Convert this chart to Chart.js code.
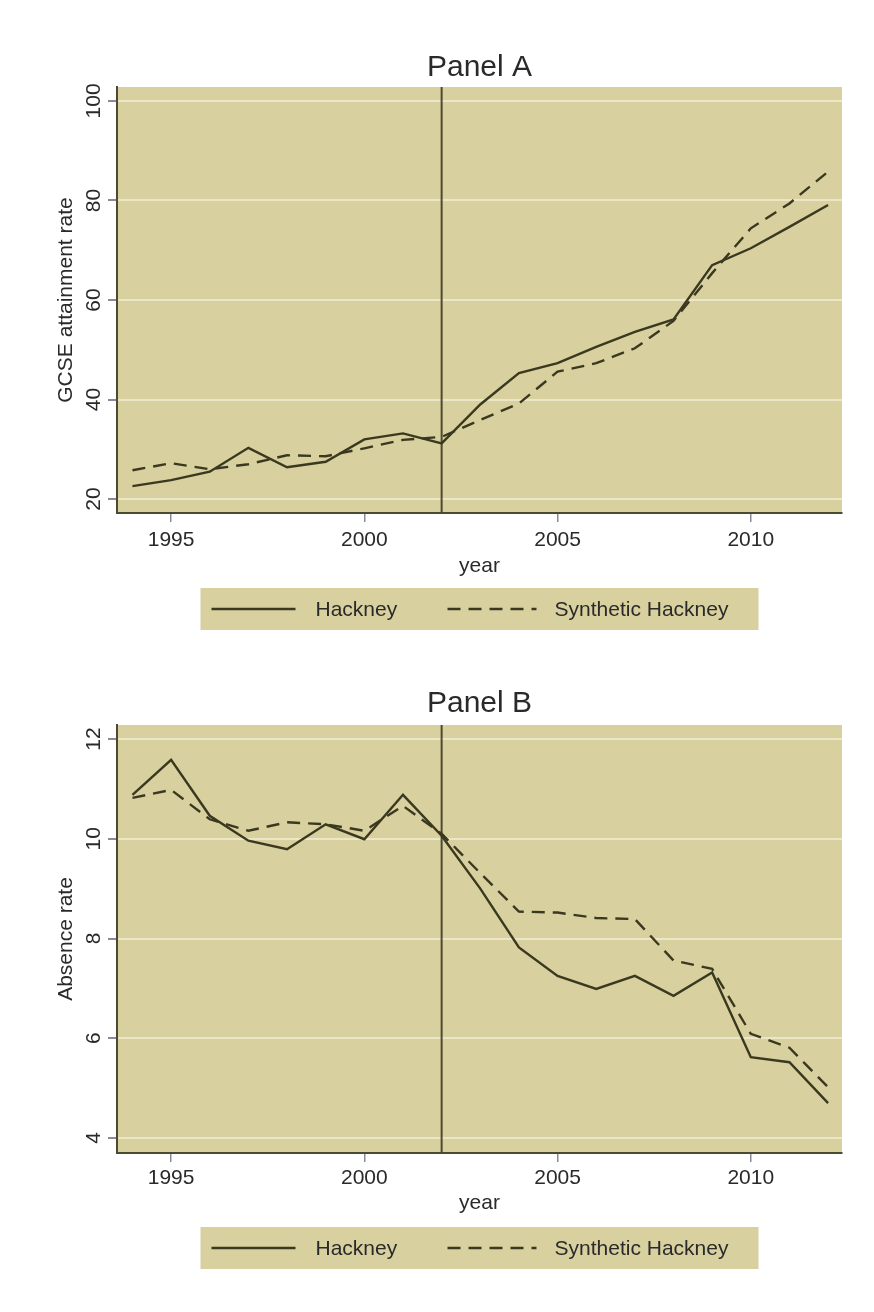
<!DOCTYPE html>
<html>
<head>
<meta charset="utf-8">
<script src="https://cdn.jsdelivr.net/npm/chart.js@4.4.1/dist/chart.umd.min.js"></script>
<style>
  html, body { margin: 0; padding: 0; background: #fff; }
  #wrap { position: relative; width: 874px; height: 1312px; }
  canvas { position: absolute; left: 0; }
</style>
</head>
<body>
<div id="wrap">
  <canvas id="panelA" width="874" height="656" style="top:0"></canvas>
  <canvas id="panelB" width="874" height="656" style="top:656px"></canvas>
</div>
<script>
// data
const years = [1994, 1995, 1996, 1997, 1998, 1999, 2000, 2001, 2002, 2003,
               2004, 2005, 2006, 2007, 2008, 2009, 2010, 2011, 2012];
const gcseHackney   = [22.6, 23.8, 25.5, 30.3, 26.4, 27.5, 32.0, 33.2, 31.2, 39.0,
                       45.3, 47.3, 50.6, 53.6, 56.1, 67.0, 70.4, 74.7, 79.1];
const gcseSynthetic = [25.8, 27.2, 26.0, 27.0, 28.8, 28.6, 30.2, 31.9, 32.5, 35.9,
                       39.2, 45.6, 47.3, 50.3, 55.8, 65.4, 74.4, 79.4, 85.8];
const absHackney    = [10.88, 11.58, 10.46, 9.96, 9.79, 10.29, 9.99, 10.88, 10.06, 9.0,
                       7.82, 7.25, 6.99, 7.25, 6.85, 7.32, 5.62, 5.52, 4.70];
const absSynthetic  = [10.82, 10.98, 10.39, 10.16, 10.33, 10.29, 10.16, 10.66, 10.1, 9.31,
                       8.54, 8.52, 8.41, 8.39, 7.56, 7.39, 6.09, 5.81, 5.02];
const xTicks = [1995, 2000, 2005, 2010];
const gcseTicks = [20, 40, 60, 80, 100];
const absTicks = [4, 6, 8, 10, 12];
const seriesNames = ['Hackney', 'Synthetic Hackney'];
const treatYear = 2002;

const KHAKI = '#d8d09e';
const GRID = '#ece6c8';
const LINE = '#3a3920';
const AXIS = '#4c4b30';
const TICK = '#8a8a9c';
const TEXT = '#2a2a2a';
const FONT = '"Liberation Sans", Arial, sans-serif';
const DASH = [13, 8];

Chart.defaults.font.family = FONT;

const panelDeco = {
  id: 'panelDeco',
  beforeDraw(chart) {
    const { ctx, chartArea: a } = chart;
    ctx.save();
    ctx.fillStyle = KHAKI;
    ctx.fillRect(a.left, a.top, a.right - a.left, a.bottom - a.top);
    ctx.restore();
  },
  beforeDatasetsDraw(chart) {
    const { ctx, chartArea: a, scales: { x } } = chart;
    const px = x.getPixelForValue(treatYear);
    ctx.save();
    ctx.strokeStyle = AXIS;
    ctx.lineWidth = 2;
    ctx.beginPath();
    ctx.moveTo(px, a.top);
    ctx.lineTo(px, a.bottom);
    ctx.stroke();
    ctx.restore();
  },
  afterDraw(chart, args, opts) {
    const { ctx, chartArea: a, scales: { y } } = chart;
    // rotated y tick labels, as Stata draws them
    ctx.save();
    ctx.fillStyle = TEXT;
    ctx.font = '21px ' + FONT;
    ctx.textAlign = 'center';
    ctx.textBaseline = 'middle';
    y.ticks.forEach(t => {
      ctx.save();
      ctx.translate(y.right - 23, y.getPixelForValue(t.value));
      ctx.rotate(-Math.PI / 2);
      ctx.fillText(String(t.value), 0, 0);
      ctx.restore();
    });
    ctx.restore();

    // legend box
    const cx = (a.left + a.right) / 2;
    const left = cx - 279;
    const top = a.bottom + opts.legendOffset;
    const h = 42;
    const my = top + h / 2;
    ctx.save();
    ctx.fillStyle = KHAKI;
    ctx.fillRect(left, top, 558, h);
    const items = [
      { x0: 11, x1: 95, tx: 115, ds: chart.data.datasets[0] },
      { x0: 247, x1: 336, tx: 354, ds: chart.data.datasets[1] }
    ];
    items.forEach(it => {
      ctx.strokeStyle = it.ds.borderColor;
      ctx.lineWidth = it.ds.borderWidth;
      ctx.setLineDash(it.ds.borderDash || []);
      ctx.beginPath();
      ctx.moveTo(left + it.x0, my);
      ctx.lineTo(left + it.x1, my);
      ctx.stroke();
      ctx.setLineDash([]);
      ctx.fillStyle = TEXT;
      ctx.font = '21px ' + FONT;
      ctx.textAlign = 'left';
      ctx.textBaseline = 'middle';
      ctx.fillText(it.ds.label, left + it.tx, my + 1);
    });
    ctx.restore();
  }
};

function buildPanel(id, o) {
  return new Chart(document.getElementById(id), {
    type: 'line',
    data: {
      datasets: [
        {
          label: seriesNames[0],
          data: years.map((yr, i) => ({ x: yr, y: o.main[i] })),
          borderColor: LINE, borderWidth: 2.4, pointRadius: 0, tension: 0
        },
        {
          label: seriesNames[1],
          data: years.map((yr, i) => ({ x: yr, y: o.synth[i] })),
          borderColor: LINE, borderWidth: 2.4, borderDash: DASH, pointRadius: 0, tension: 0
        }
      ]
    },
    options: {
      responsive: false,
      animation: false,
      devicePixelRatio: 1,
      layout: { padding: { left: 0, right: 32, top: 0, bottom: o.padBottom } },
      plugins: {
        legend: { display: false },
        tooltip: { enabled: false },
        title: {
          display: true, text: o.title, fullSize: false, color: TEXT,
          font: { size: 30, weight: 'normal' },
          padding: { top: o.titleTop, bottom: o.titleBottom }
        },
        panelDeco: { legendOffset: o.legendOffset }
      },
      scales: {
        x: {
          type: 'linear', min: 1993.6, max: 2012.36,
          afterBuildTicks: s => { s.ticks = xTicks.map(v => ({ value: v })); },
          afterFit: s => { s.height = o.xHeight; },
          grid: { drawOnChartArea: false, drawTicks: true, tickLength: 9, tickColor: TICK, lineWidth: 1.5 },
          border: { color: AXIS, width: 2 },
          ticks: { font: { size: 21 }, color: TEXT, padding: o.xPad, maxRotation: 0, autoSkip: false,
                   callback: v => String(v) },
          title: { display: true, text: 'year', font: { size: 21 }, color: TEXT, padding: { top: 0, bottom: 0 } }
        },
        y: {
          min: o.yMin, max: o.yMax,
          afterBuildTicks: s => { s.ticks = o.yTicks.map(v => ({ value: v })); },
          afterFit: s => { s.width = 117; },
          grid: { color: GRID, lineWidth: 2, drawTicks: true, tickLength: 9, tickColor: TICK },
          border: { color: AXIS, width: 2 },
          ticks: { display: false },
          title: { display: true, text: o.yTitle, font: { size: 21 }, color: TEXT, padding: { top: 54, bottom: 0 } }
        }
      }
    },
    plugins: [panelDeco]
  });
}

buildPanel('panelA', {
  title: 'Panel A', yTitle: 'GCSE attainment rate',
  main: gcseHackney, synth: gcseSynthetic,
  yMin: 17.2, yMax: 102.8, yTicks: gcseTicks,
  titleTop: 50, titleBottom: 1, xHeight: 66, xPad: 6, padBottom: 77, legendOffset: 75
});

buildPanel('panelB', {
  title: 'Panel B', yTitle: 'Absence rate',
  main: absHackney, synth: absSynthetic,
  yMin: 3.7, yMax: 12.28, yTicks: absTicks,
  titleTop: 30, titleBottom: 3, xHeight: 63, xPad: 4, padBottom: 96, legendOffset: 74
});
</script>
</body>
</html>
